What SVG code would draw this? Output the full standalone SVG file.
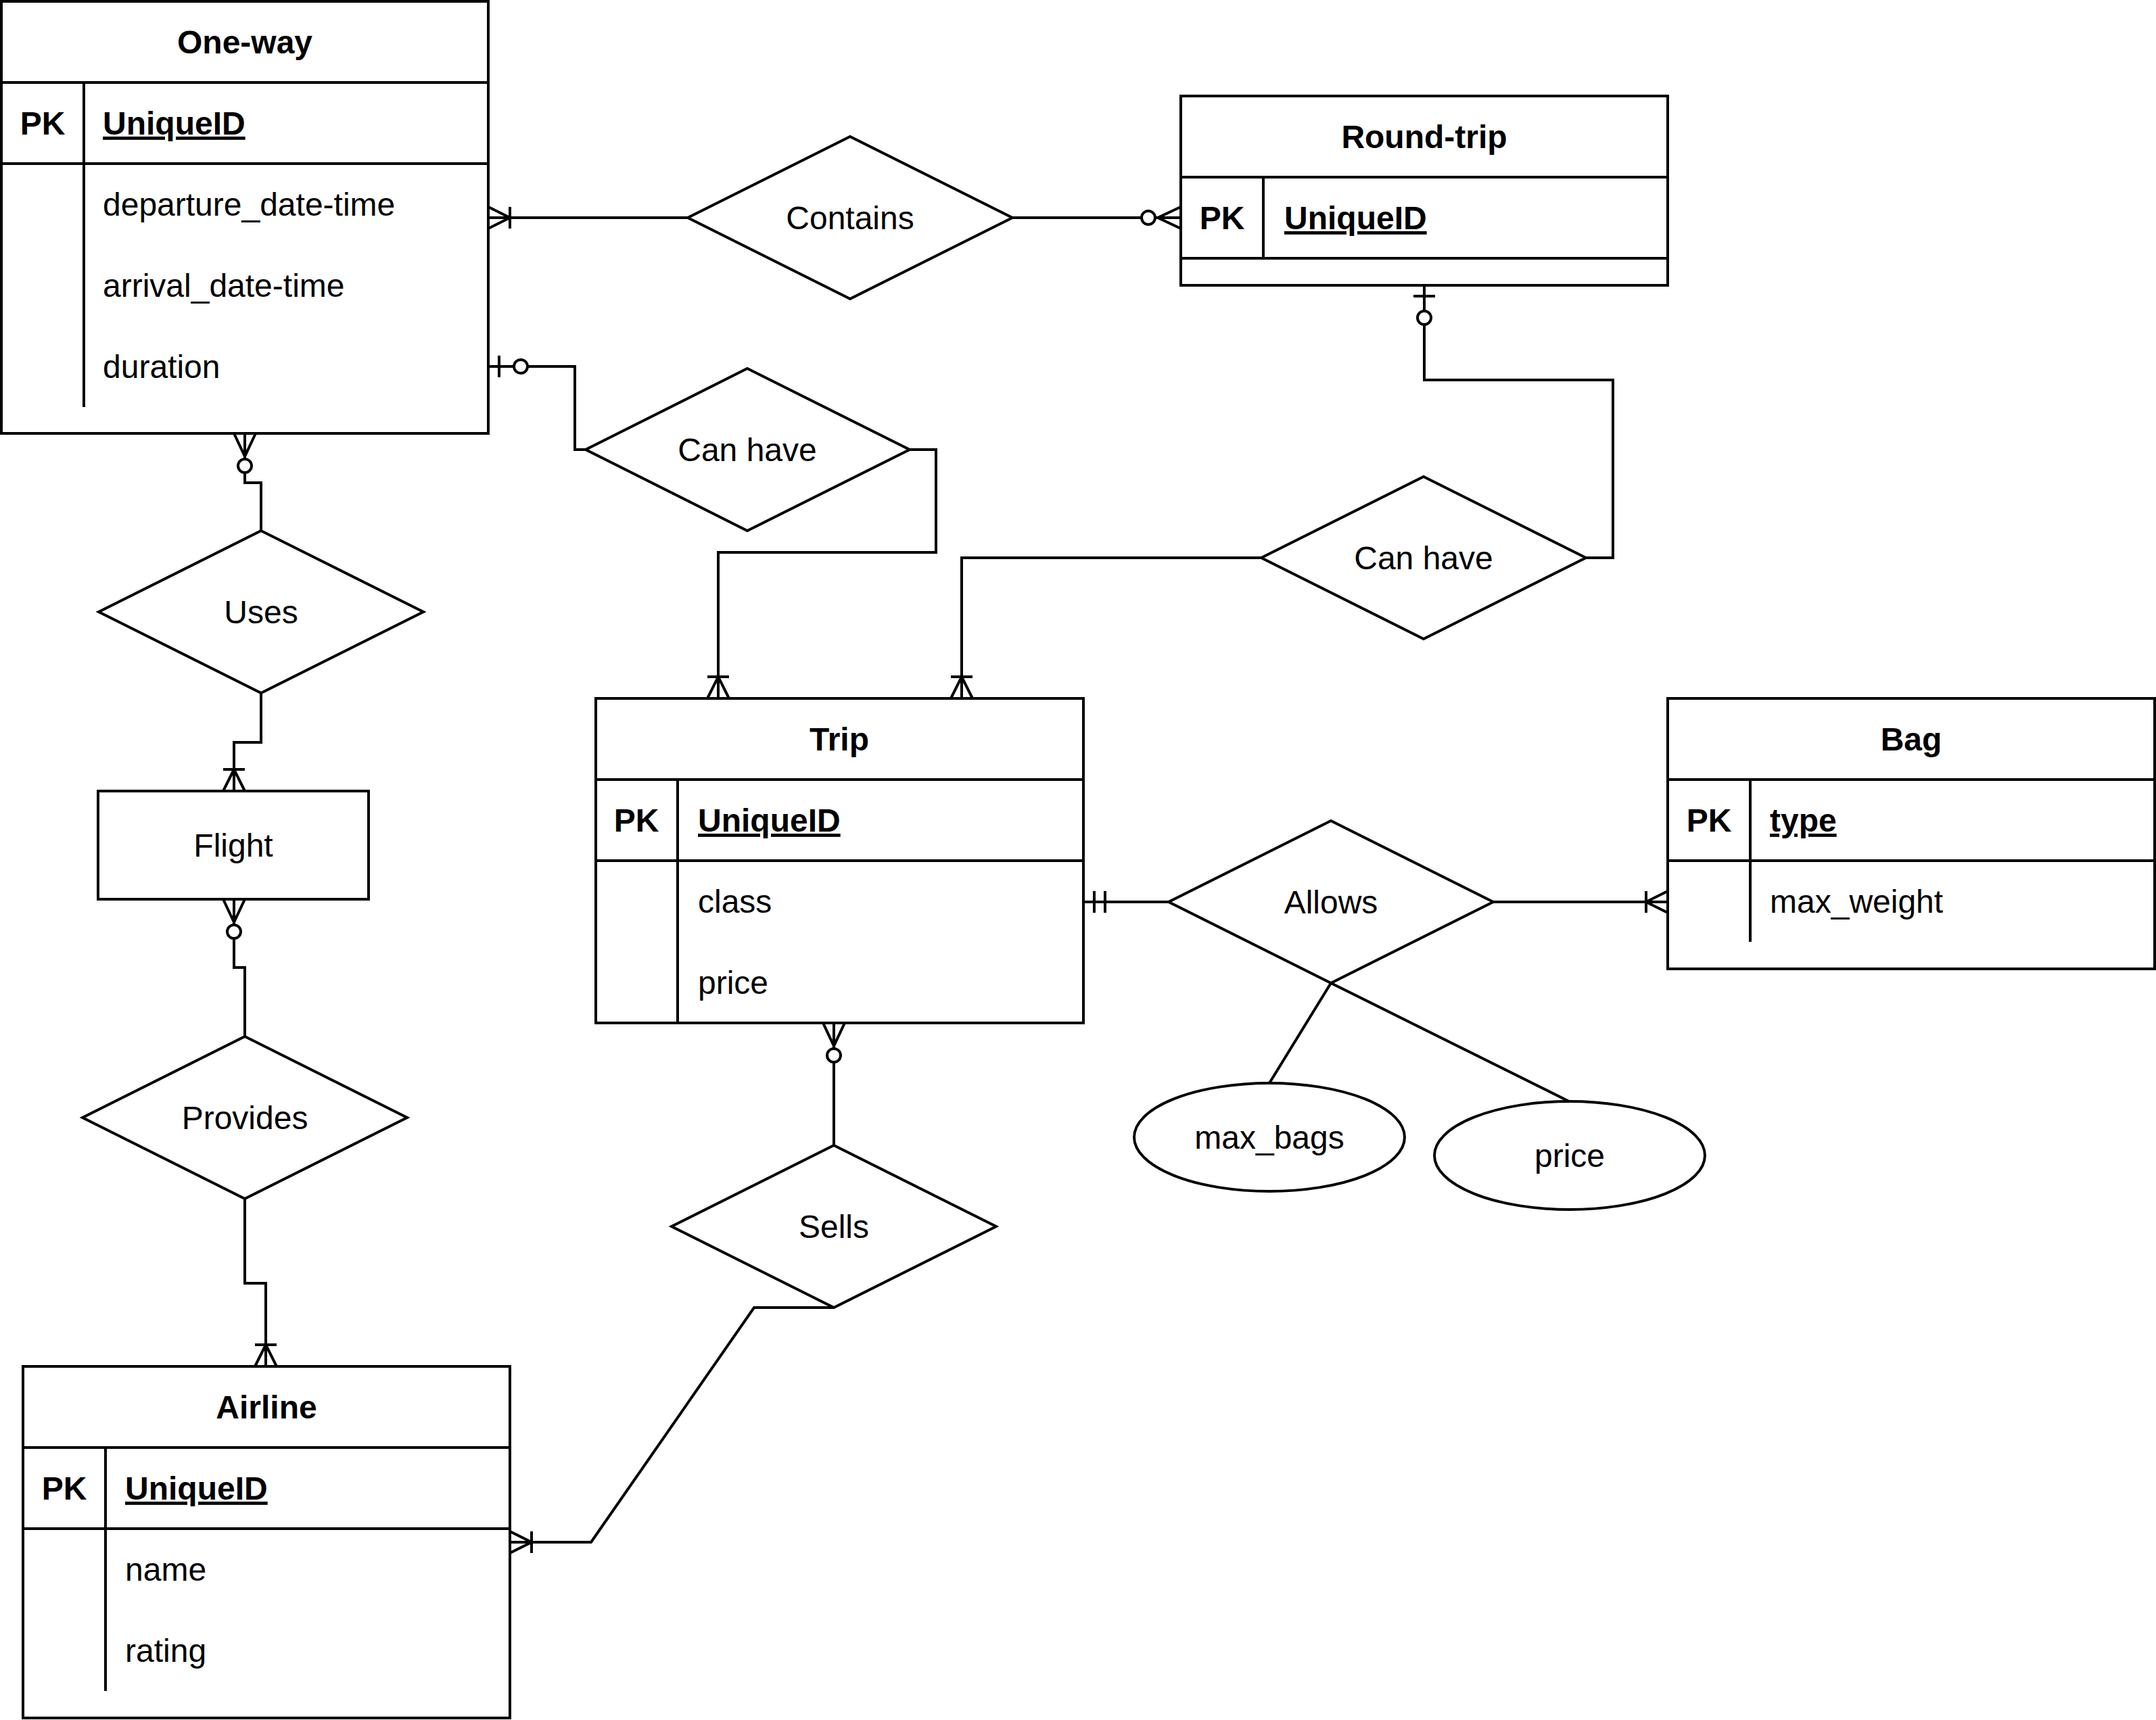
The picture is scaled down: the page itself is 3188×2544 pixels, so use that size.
<svg xmlns="http://www.w3.org/2000/svg" width="3188" height="2544" viewBox="0 0 3188 2544">
<style>
.box{fill:#fff;stroke:#000;stroke-width:4}
.ln{fill:none;stroke:#000;stroke-width:4}
.dia{fill:#fff;stroke:#000;stroke-width:4}
.ell{fill:#fff;stroke:#000;stroke-width:4}
text{font-family:"Liberation Sans",Arial,Helvetica,sans-serif;font-size:48px;fill:#000}
.b{font-weight:bold}
.c{text-anchor:middle}
.u{text-decoration:underline}
.conn{fill:none;stroke:#000;stroke-width:4}
.mk{fill:none;stroke:#000;stroke-width:4}
.mkc{fill:#fff;stroke:#000;stroke-width:4}
</style>
<defs>
<marker id="oneMany" markerUnits="userSpaceOnUse" viewBox="-64 -24 68 48" markerWidth="68" markerHeight="48" refX="0" refY="0" orient="auto" overflow="visible">
<path class="mk" d="M0,-16 L-32,0 L0,16 M-32,-16 L-32,16"/>
</marker>
<marker id="zeroMany" markerUnits="userSpaceOnUse" viewBox="-64 -24 68 48" markerWidth="68" markerHeight="48" refX="0" refY="0" orient="auto" overflow="visible">
<path class="mk" d="M0,-16 L-34,0 L0,16"/>
<circle class="mkc" cx="-48" cy="0" r="10"/>
</marker>
<marker id="zeroOne" markerUnits="userSpaceOnUse" viewBox="-64 -24 68 48" markerWidth="68" markerHeight="48" refX="0" refY="0" orient="auto" overflow="visible">
<path class="mk" d="M-16,-16 L-16,16"/>
<circle class="mkc" cx="-48" cy="0" r="10"/>
</marker>
<marker id="mandOne" markerUnits="userSpaceOnUse" viewBox="-64 -24 68 48" markerWidth="68" markerHeight="48" refX="0" refY="0" orient="auto" overflow="visible">
<path class="mk" d="M-16,-16 L-16,16 M-32,-16 L-32,16"/>
</marker>
</defs>
<rect x="0" y="0" width="3188" height="2544" fill="#fff"/>

<g id="connectors">
<path class="conn" d="M1017,322 L722,322" marker-end="url(#oneMany)"/>
<path class="conn" d="M1497,322 L1746,322" marker-end="url(#zeroMany)"/>
<path class="conn" d="M866,665 L850,665 L850,542 L722,542" marker-end="url(#zeroOne)"/>
<path class="conn" d="M1345,665 L1384,665 L1384,817 L1062,817 L1062,1033" marker-end="url(#oneMany)"/>
<path class="conn" d="M2345,825 L2385,825 L2385,562 L2106,562 L2106,422" marker-end="url(#zeroOne)"/>
<path class="conn" d="M1865,825 L1422,825 L1422,1033" marker-end="url(#oneMany)"/>
<path class="conn" d="M386,785 L386,714 L362,714 L362,641" marker-end="url(#zeroMany)"/>
<path class="conn" d="M386,1025 L386,1098 L346,1098 L346,1170" marker-end="url(#oneMany)"/>
<path class="conn" d="M362,1533 L362,1431 L346,1431 L346,1330" marker-end="url(#zeroMany)"/>
<path class="conn" d="M362,1773 L362,1898 L393,1898 L393,2021" marker-end="url(#oneMany)"/>
<path class="conn" d="M1233,1694 L1233,1513" marker-end="url(#zeroMany)"/>
<path class="conn" d="M1233,1934 L1115,1934 L874,2281 L754,2281" marker-end="url(#oneMany)"/>
<path class="conn" d="M1728,1334 L1602,1334" marker-end="url(#mandOne)"/>
<path class="conn" d="M2208,1334 L2466,1334" marker-end="url(#oneMany)"/>
<path class="conn" d="M1968,1454 L1877,1602"/>
<path class="conn" d="M1968,1454 L2320,1629"/>
</g>

<g id="one-way">
<rect class="box" x="2" y="2" width="720" height="639"/>
<path class="ln" d="M2,122 H722 M2,242 H722 M124,122 V602"/>
<text class="b c" x="362" y="79">One-way</text>
<text class="b c" x="63" y="199">PK</text>
<text class="b u" x="152" y="199">UniqueID</text>
<text x="152" y="319">departure_date-time</text>
<text x="152" y="439">arrival_date-time</text>
<text x="152" y="559">duration</text>
</g>

<g id="round-trip">
<rect class="box" x="1746" y="142" width="720" height="280"/>
<path class="ln" d="M1746,262 H2466 M1746,382 H2466 M1868,262 V382"/>
<text class="b c" x="2106" y="219">Round-trip</text>
<text class="b c" x="1807" y="339">PK</text>
<text class="b u" x="1899" y="339">UniqueID</text>
</g>

<g id="trip">
<rect class="box" x="881" y="1033" width="721" height="480"/>
<path class="ln" d="M881,1153 H1602 M881,1273 H1602 M1002,1153 V1513"/>
<text class="b c" x="1241" y="1110">Trip</text>
<text class="b c" x="941" y="1230">PK</text>
<text class="b u" x="1032" y="1230">UniqueID</text>
<text x="1032" y="1350">class</text>
<text x="1032" y="1470">price</text>
</g>

<g id="bag">
<rect class="box" x="2466" y="1033" width="720" height="400"/>
<path class="ln" d="M2466,1153 H3186 M2466,1273 H3186 M2588,1153 V1393"/>
<text class="b c" x="2826" y="1110">Bag</text>
<text class="b c" x="2527" y="1230">PK</text>
<text class="b u" x="2617" y="1230">type</text>
<text x="2617" y="1350">max_weight</text>
</g>

<g id="airline">
<rect class="box" x="34" y="2021" width="720" height="520"/>
<path class="ln" d="M34,2141 H754 M34,2261 H754 M156,2141 V2501"/>
<text class="b c" x="394" y="2098">Airline</text>
<text class="b c" x="95" y="2218">PK</text>
<text class="b u" x="185" y="2218">UniqueID</text>
<text x="185" y="2338">name</text>
<text x="185" y="2458">rating</text>
</g>

<g id="flight">
<rect class="box" x="145" y="1170" width="400" height="160"/>
<text class="c" x="345" y="1267">Flight</text>
</g>

<g id="contains">
<path class="dia" d="M1257,202 L1497,322 L1257,442 L1017,322 Z"/>
<text class="c" x="1257" y="339">Contains</text>
</g>

<g id="can-have-1">
<path class="dia" d="M1105,545 L1345,665 L1105,785 L866,665 Z"/>
<text class="c" x="1105" y="682">Can have</text>
</g>

<g id="can-have-2">
<path class="dia" d="M2105,705 L2345,825 L2105,945 L1865,825 Z"/>
<text class="c" x="2105" y="842">Can have</text>
</g>

<g id="uses">
<path class="dia" d="M386,785 L626,905 L386,1025 L146,905 Z"/>
<text class="c" x="386" y="922">Uses</text>
</g>

<g id="provides">
<path class="dia" d="M362,1533 L602,1653 L362,1773 L122,1653 Z"/>
<text class="c" x="362" y="1670">Provides</text>
</g>

<g id="sells">
<path class="dia" d="M1233,1694 L1473,1814 L1233,1934 L993,1814 Z"/>
<text class="c" x="1233" y="1831">Sells</text>
</g>

<g id="allows">
<path class="dia" d="M1968,1214 L2208,1334 L1968,1454 L1728,1334 Z"/>
<text class="c" x="1968" y="1351">Allows</text>
</g>

<g id="max_bags">
<ellipse class="ell" cx="1877" cy="1682" rx="200" ry="80"/>
<text class="c" x="1877" y="1699">max_bags</text>
</g>

<g id="price">
<ellipse class="ell" cx="2321" cy="1709" rx="200" ry="80"/>
<text class="c" x="2321" y="1726">price</text>
</g>
</svg>
